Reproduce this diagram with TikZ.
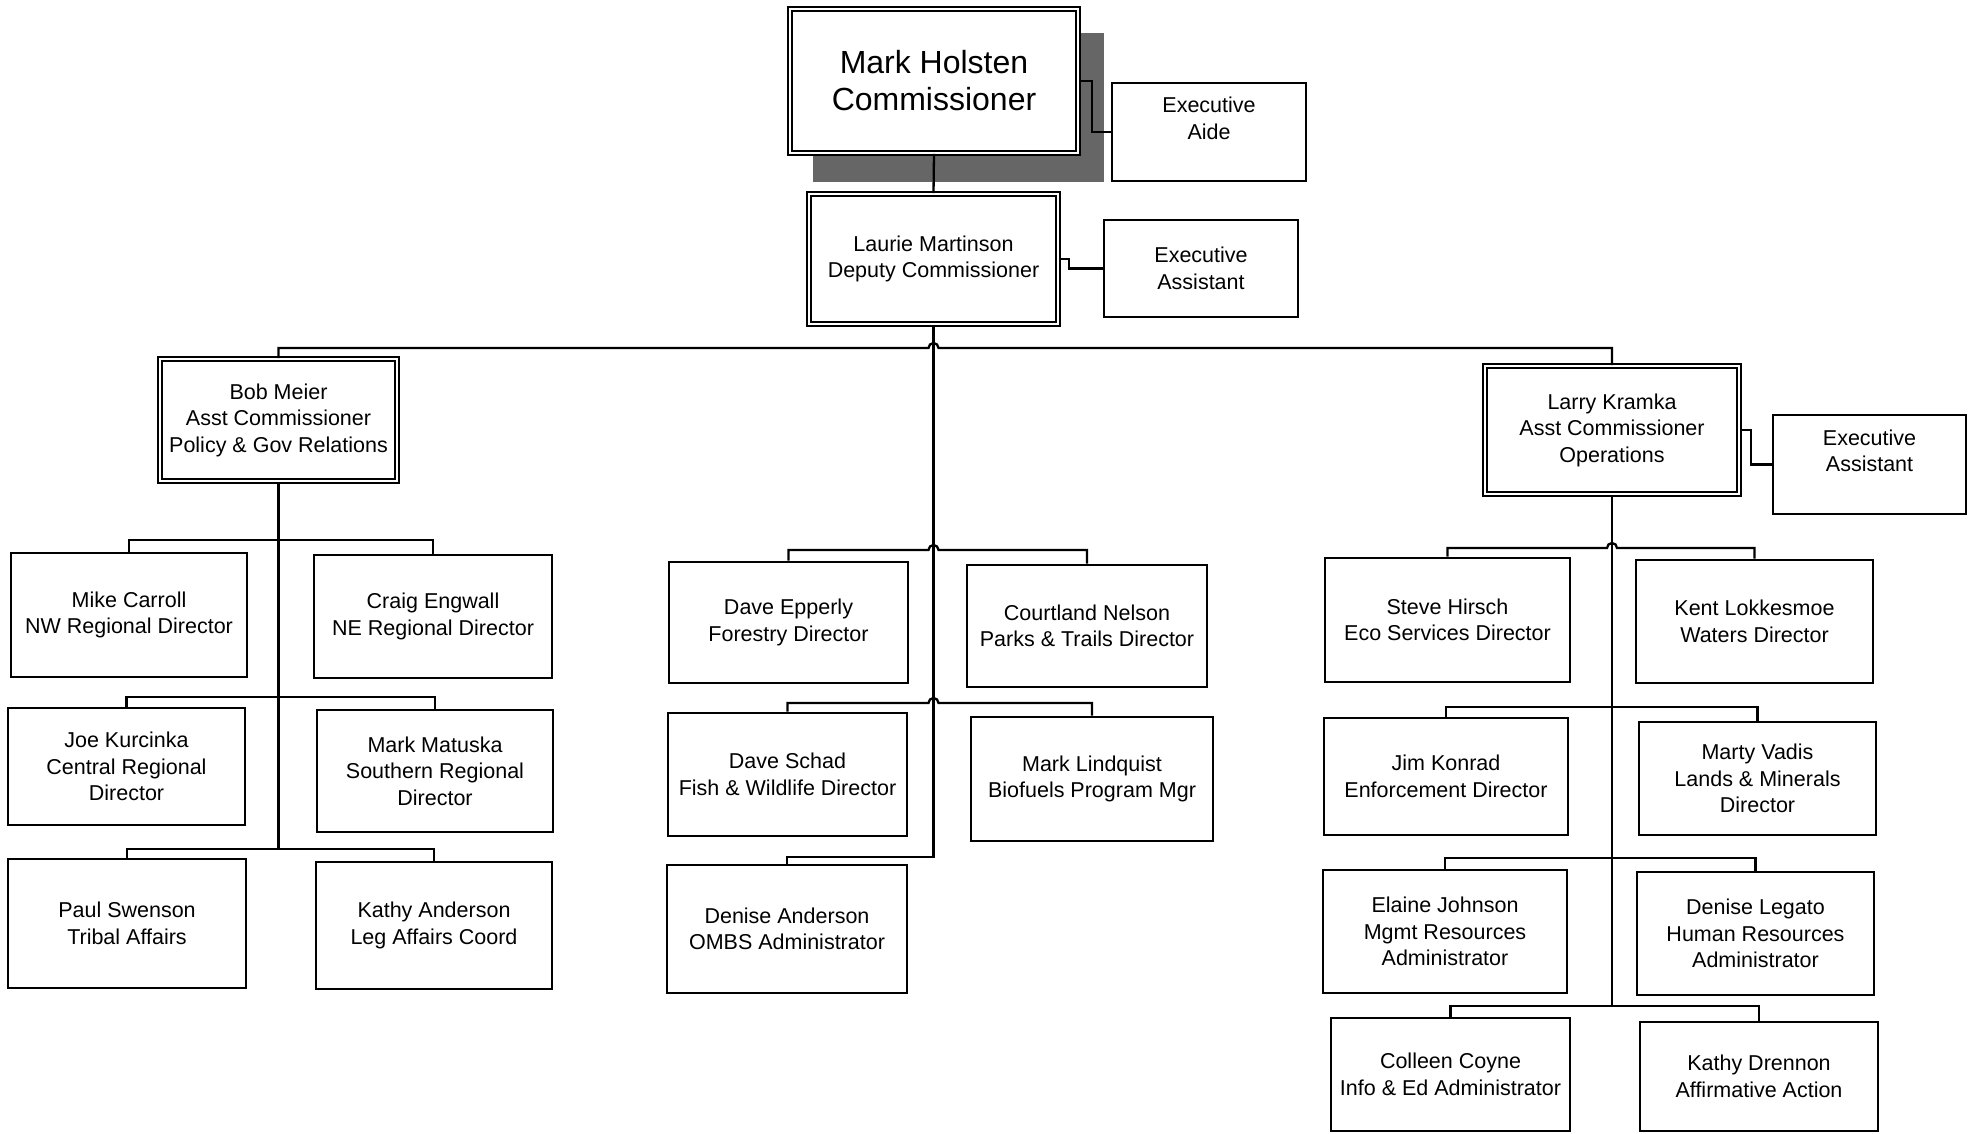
\documentclass[tikz,border=0pt]{standalone}
\usepackage{fontspec}
\setmainfont{Liberation Sans}
\begin{document}
\begin{tikzpicture}[x=1pt,y=-1pt,
  box/.style={draw=black, line width=2.6pt, fill=white, inner sep=0pt, align=center,
              font=\fontsize{21.5}{26.5}\selectfont},
  dblbox/.style={box, double=white, double distance=1.8pt, line width=1.7pt},
  sz/.style 2 args={minimum width=#1pt, minimum height=#2pt},
  conn/.style={line width=2.3pt},
]
\useasboundingbox (0,0) rectangle (1975,1134);
\fill[white] (0,0) rectangle (1975,1134);
% shadow of the commissioner box
\fill[black!60] (813,33) rectangle (1104,182);

% top
\node[dblbox, sz={288}{144}, font=\fontsize{32}{37}\selectfont] (mark) at (934,81) {Mark Holsten\\Commissioner};
\node[box, sz={194}{98}] (aide) at (1209,132) {Executive\\Aide\\[1.5pt]\mbox{}};
\node[dblbox, sz={249}{130}] (laurie) at (933.5,259) {Laurie Martinson\\Deputy Commissioner};
\node[box, sz={194}{97}] (ea1) at (1201,268.5) {Executive\\Assistant};

% assistant commissioners
\node[dblbox, sz={237}{122}] (bob) at (278.5,420) {Bob Meier\\Asst Commissioner\\Policy \& Gov Relations};
\node[dblbox, sz={254}{128}] (larry) at (1612,430) {Larry Kramka\\Asst Commissioner\\Operations};
\node[box, sz={193}{99}] (ea2) at (1869.5,464.5) {Executive\\Assistant\\[1.5pt]\mbox{}};

% left column
\node[box, sz={236}{124}] (mike) at (129,615) {Mike Carroll\\NW Regional Director};
\node[box, sz={238}{123}] (craig) at (433,616.5) {Craig Engwall\\NE Regional Director};
\node[box, sz={237}{117}] (joe) at (126.5,766.5) {Joe Kurcinka\\Central Regional\\Director};
\node[box, sz={236}{122}] (matuska) at (435,771) {Mark Matuska\\Southern Regional\\Director};
\node[box, sz={238}{129}] (paul) at (127,923.5) {Paul Swenson\\Tribal Affairs};
\node[box, sz={236}{127}] (kathya) at (434,925.5) {Kathy Anderson\\Leg Affairs Coord};

% middle column
\node[box, sz={239}{121}] (epperly) at (788.5,622.5) {Dave Epperly\\Forestry Director};
\node[box, sz={240}{122}] (nelson) at (1087,626) {Courtland Nelson\\Parks \& Trails Director};
\node[box, sz={239}{123}] (schad) at (787.5,774.5) {Dave Schad\\Fish \& Wildlife Director};
\node[box, sz={242}{124}] (lindquist) at (1092,779) {Mark Lindquist\\Biofuels Program Mgr};
\node[box, sz={240}{128}] (denisea) at (787,929) {Denise Anderson\\OMBS Administrator};

% right column
\node[box, sz={245}{124}] (steve) at (1447.5,620) {Steve Hirsch\\Eco Services Director};
\node[box, sz={237}{123}] (kent) at (1754.5,621.5) {Kent Lokkesmoe\\Waters Director};
\node[box, sz={244}{117}] (jim) at (1446,776.5) {Jim Konrad\\Enforcement Director};
\node[box, sz={237}{113}] (marty) at (1757.5,778.5) {Marty Vadis\\Lands \& Minerals\\Director};
\node[box, sz={244}{123}] (elaine) at (1445,931.5) {Elaine Johnson\\Mgmt Resources\\Administrator};
\node[box, sz={237}{123}] (denisel) at (1755.5,933.5) {Denise Legato\\Human Resources\\Administrator};
\node[box, sz={239}{113}] (colleen) at (1450.5,1074.5) {Colleen Coyne\\Info \& Ed Administrator};
\node[box, sz={238}{109}] (kathyd) at (1759,1076.5) {Kathy Drennon\\Affirmative Action};

% bus coordinates
\coordinate (mb) at (928.5,348);
\coordinate (mtend) at (787,857);
\coordinate (m1) at (928.5,550);
\coordinate (m2) at (928.5,703);
\coordinate (l1) at (278.5,540);
\coordinate (l2) at (278.5,697);
\coordinate (l3) at (278.5,849);
\coordinate (r1) at (1607,548);
\coordinate (r2) at (1612,707);
\coordinate (r3) at (1612,858);
\coordinate (r4) at (1612,1006);

% connectors
\draw[conn] (mark.south) -- (laurie.north);
\draw[conn] (mark.east) -- ++(13,0) |- (aide.west);
\draw[conn] (laurie.east) -- ++(10,0) |- (ea1.west);
\draw[conn] (larry.east) -- ++(11,0) |- (ea2.west);

\draw[conn] (bob.north) |- (mb) arc[start angle=180, end angle=360, radius=5] -| (larry.north);
\draw[conn] (laurie.south) |- (mtend) -| (denisea.north);
\draw[conn] (epperly.north) |- (m1) arc[start angle=180, end angle=360, radius=5] -| (nelson.north);
\draw[conn] (schad.north) |- (m2) arc[start angle=180, end angle=360, radius=5] -| (lindquist.north);

\draw[conn] (bob.south) -- (l3);
\draw[conn] (mike.north) |- (l1) -| (craig.north);
\draw[conn] (joe.north) |- (l2) -| (matuska.north);
\draw[conn] (paul.north) |- (l3) -| (kathya.north);

\draw[conn] (larry.south) -- (r4);
\draw[conn] (steve.north) |- (r1) arc[start angle=180, end angle=360, radius=5] -| (kent.north);
\draw[conn] (jim.north) |- (r2) -| (marty.north);
\draw[conn] (elaine.north) |- (r3) -| (denisel.north);
\draw[conn] (colleen.north) |- (r4) -| (kathyd.north);
\end{tikzpicture}
\end{document}
